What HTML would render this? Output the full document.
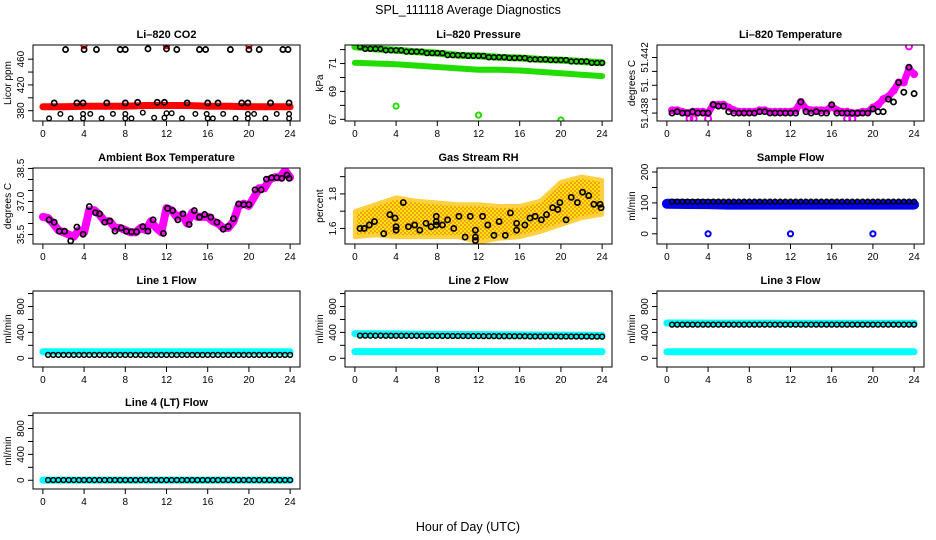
<!DOCTYPE html>
<html><head><meta charset="utf-8"><style>
html,body{margin:0;padding:0;background:#fff}
svg{display:block;font-family:"Liberation Sans",sans-serif}
</style></head><body>
<svg id="chart" width="936" height="540" viewBox="0 0 936 540" xmlns="http://www.w3.org/2000/svg">
<rect width="936" height="540" fill="#fff"/>
<text x="468" y="14" font-size="12.5" text-anchor="middle">SPL_111118  Average Diagnostics</text>
<text x="468" y="531" font-size="12.5" text-anchor="middle">Hour of Day (UTC)</text>
</svg>
<script>
// ---------- data ----------
const xTicks = [0,4,8,12,16,20,24];
const hours2 = [0,2,4,6,8,10,12,14,16,18,20,22,24];
const hoursHalf = [0.5,1,1.5,2,2.5,3,3.5,4,4.5,5,5.5,6,6.5,7,7.5,8,8.5,9,9.5,10,10.5,11,11.5,12,12.5,13,13.5,14,14.5,15,15.5,16,16.5,17,17.5,18,18.5,19,19.5,20,20.5,21,21.5,22,22.5,23,23.5,24];

// CO2
const co2Red = [386,386,387,387,387,388,388,388,387,387,386,386,386];
const co2RedOutHours = [4,12,20];
const co2RedOut = [481,481,481];
const co2HighHours = [2.2,4,5.2,7.5,8,10.2,12,13,15.2,15.8,18.2,20,21,23.3,23.8];
const co2High = [475,475,475,475,475,476,476,475,475,475,475,475,475,475,475];
const co2MidHours = [1.1,3.3,3.9,6.2,8,9.2,11.1,11.8,14,16,17,19.3,19.9,22.1,23.9];
const co2Mid = [392,392,392,392,392,393,393,393,392,392,392,392,392,392,392];
const co2LowHours = [1.7,3.9,4.6,6.8,8,9.7,12,12.5,14.8,15.9,17.5,19.9,20.5,22.7,23.9];
const co2Low = [375,375,375,375,375,377,376,376,375,375,375,375,375,375,375];
const co2Low2Hours = [0.6,2.7,3.9,5.7,8,8.6,10.8,11.8,13.5,16,16.5,18.7,19.9,21.6,23.9];
const co2Low2 = [368,368,368,368,368,368,369,369,368,368,368,368,368,368,368];

// Pressure
const presUpper = [72.2,72.05,71.95,71.85,71.75,71.6,71.55,71.45,71.4,71.3,71.25,71.15,71.05];
const presLower = [71.05,71.0,70.95,70.85,70.75,70.65,70.55,70.55,70.5,70.4,70.3,70.2,70.1];
const presOutHours = [4,12,20];
const presOut = [67.95,67.3,66.95];

// Li-820 temperature
const tempBlack = [51.4380,51.4381,51.4380,51.4380,51.4381,51.4380,51.4380,51.4380,51.4386,51.4385,51.4385,51.4381,51.4380,51.4380,51.4380,51.4380,51.4380,51.4381,51.4381,51.4380,51.4380,51.4380,51.4380,51.4380,51.4380,51.4388,51.4381,51.4380,51.4381,51.4380,51.4380,51.4386,51.4380,51.4380,51.4380,51.4380,51.4380,51.4380,51.4380,51.4383,51.4381,51.4381,51.4390,51.4388,51.4402,51.4395,51.4413,51.4394];
const tempMag = [51.4382,51.4382,51.4381,51.4380,51.4381,51.4381,51.4381,51.4380,51.4386,51.4386,51.4386,51.4384,51.4382,51.4381,51.4381,51.4381,51.4381,51.4382,51.4382,51.4381,51.4381,51.4381,51.4381,51.4381,51.4382,51.4388,51.4383,51.4382,51.4382,51.4382,51.4382,51.4385,51.4382,51.4381,51.4381,51.4380,51.4380,51.4381,51.4381,51.4384,51.4386,51.4390,51.4392,51.4396,51.4402,51.4402,51.4412,51.4408];
const tempOutHours = [2.2,2.6,4,17.5,18,23.5];
const tempOut = [51.4376,51.4376,51.4376,51.4376,51.4376,51.4428];

// Ambient box temperature
const ambHours = [0.6,1.1,1.6,2.1,2.7,3.3,3.9,4.5,5.1,5.5,6.0,6.5,7.0,7.6,8.1,8.6,9.1,9.7,10.2,10.7,11.7,12.1,12.6,13.1,13.6,14.2,14.7,15.2,15.7,16.3,16.9,17.5,18.0,18.5,19.0,19.5,20.0,20.6,21.2,21.7,22.2,22.7,23.2,23.7,23.9];
const ambBlack = [36.17,36.06,35.65,35.65,35.21,35.84,35.51,36.77,36.49,36.44,36.06,36.11,35.66,35.80,35.65,35.62,35.62,35.86,35.65,36.17,35.55,36.69,36.59,36.17,36.44,35.96,36.59,36.29,36.41,36.29,36.06,35.74,35.87,36.22,36.89,36.86,36.86,37.53,37.53,38.01,38.08,38.08,38.05,38.2,38.05];
const ambMagHours = [0,0.5,1,1.5,2,2.5,3,3.5,4,4.5,5,5.5,6,6.5,7,7.5,8,8.5,9,9.5,10,10.5,11,11.5,12,12.5,13,13.5,14,14.5,15,15.5,16,16.5,17,17.5,18,18.5,19,19.5,20,20.5,21,21.5,22,22.5,23,23.5,24];
const ambMag = [36.3,36.25,36.0,35.7,35.6,35.5,35.4,35.7,35.6,36.6,36.6,36.4,36.1,36.1,35.8,35.8,35.7,35.6,35.6,35.8,35.7,36.1,35.8,35.6,36.7,36.6,36.3,36.4,36.0,36.5,36.3,36.3,36.3,36.1,36.0,35.8,35.8,36.1,36.8,36.9,36.8,37.2,37.6,37.6,38.0,38.1,38.1,38.4,38.1];

// Gas stream RH
const rhBandHours = [0,2,4,6,8,10,12,14,16,18,20,22,24];
const rhUpper = [1.70,1.74,1.78,1.76,1.75,1.74,1.74,1.73,1.73,1.76,1.87,1.90,1.88];
const rhLower = [1.55,1.56,1.55,1.55,1.55,1.55,1.52,1.54,1.55,1.58,1.62,1.66,1.68];
const rhHours = [0.5,0.9,1.4,1.9,2.8,3.4,3.9,4,4,4.7,5.2,5.8,6.3,6.9,7.4,7.9,7.9,7.9,8.5,9,9.6,10.1,10.7,11.2,11.7,11.7,11.7,12.4,12.9,13.5,14,14.6,15.1,15.7,15.7,16.5,17,17.5,18.1,18.6,19.2,19.7,19.9,20.5,21,21.6,22.1,22.7,23.2,23.8,23.9];
const rhBlack = [1.60,1.60,1.62,1.64,1.57,1.68,1.66,1.61,1.59,1.75,1.61,1.62,1.59,1.63,1.61,1.67,1.64,1.62,1.62,1.65,1.60,1.67,1.55,1.67,1.59,1.55,1.53,1.67,1.62,1.56,1.64,1.56,1.69,1.63,1.59,1.62,1.66,1.67,1.65,1.68,1.72,1.71,1.75,1.65,1.78,1.75,1.81,1.79,1.74,1.74,1.72];

// Sample flow
const sfUpper = [108,107,107,106,106,106,106,106,106,106,106,106,106];
const sfLower = [86,86,85,83,83,83,83,83,83,83,83,83,83];
const sfBlack = [104,104,104,104,104,104,104,104,104,104,104,104,104,104,104,104,104,104,104,104,104,104,104,104,104,104,104,104,104,104,104,104,104,104,104,104,104,104,104,104,104,104,104,104,104,104,104,104];
const sfOutHours = [4,12,20];
const sfOut = [0,0,0];

// Line flows
const l1Cyan = [100,100,100,100,100,100,100,100,100,100,100,100,100];
const l1Black = [52,52,52,52,52,52,52,52,52,52,52,52,52,52,52,52,52,52,52,52,52,52,52,52,52,52,52,52,52,52,52,52,52,52,52,52,52,52,52,52,52,52,52,52,52,52,52,52];
const l2CyanHi = [380,378,376,372,370,368,366,364,362,360,358,356,354];
const l2CyanLo = [103,103,103,103,103,103,103,103,103,103,103,103,103];
const l2Black = [350,350,349,349,349,348,348,348,348,347,347,347,346,346,346,345,345,345,344,344,344,343,343,343,342,342,342,341,341,341,340,340,340,339,339,339,338,338,338,337,337,337,336,336,336,335,335,334];
const l3CyanHi = [545,545,544,544,543,543,542,542,541,541,540,540,540];
const l3CyanLo = [100,100,100,100,100,100,100,100,100,100,100,100,100];
const l3Black = [520,520,520,520,520,520,520,520,520,520,520,520,520,520,520,520,520,520,520,520,520,520,520,520,520,520,520,520,520,520,520,520,520,520,520,520,520,520,520,520,520,520,520,520,520,520,520,520];
const l4Cyan = [3,3,3,3,3,3,3,3,3,3,3,3,3];
const l4Black = [3,3,3,3,3,3,3,3,3,3,3,3,3,3,3,3,3,3,3,3,3,3,3,3,3,3,3,3,3,3,3,3,3,3,3,3,3,3,3,3,3,3,3,3,3,3,3,3];

// ---------- drawing ----------
const NS = "http://www.w3.org/2000/svg";
const svg = document.getElementById('chart');
function mk(tag, parent, attrs) {
  const e = document.createElementNS(NS, tag);
  for (const k in attrs) e.setAttribute(k, attrs[k]);
  parent.appendChild(e);
  return e;
}
const ROW_TOP = [45,168,291,413];
const PH = 76;

function panel(col, row, name, title, ylab, ylim, ticks, labels) {
  const g = mk('g', svg, {});
  
  
  const L = 33 + 312 * col, R = 300 + 312 * col;
  const T = ROW_TOP[row], B = T + PH;
  const pad = (R - L) * 0.04 / 1.08;
  const x = h => L + pad + (h / 24) * (R - L - 2 * pad);
  const y = v => B - (v - ylim[0]) / (ylim[1] - ylim[0]) * (B - T);
  const t = mk('text', g, {x: (L + R) / 2, y: T - 7, 'font-size': 11, 'font-weight': 'bold', 'text-anchor': 'middle'});
  t.textContent = title;
  
  
  const xa = mk('g', g, {});
  
  
  mk('line', xa, {x1: x(0), x2: x(24), y1: B, y2: B, stroke: '#000'});
  xTicks.forEach(h => {
    mk('line', xa, {x1: x(h), x2: x(h), y1: B, y2: B + 5, stroke: '#000'});
    const tl = mk('text', xa, {x: x(h), y: B + 16, 'font-size': 10, 'text-anchor': 'middle'});
    tl.textContent = h;
    
    
  });
  const ya = mk('g', g, {});
  
  
  mk('line', ya, {x1: L, x2: L, y1: y(ticks[0]), y2: y(ticks[ticks.length - 1]), stroke: '#000'});
  ticks.forEach((v, i) => {
    mk('line', ya, {x1: L - 5, x2: L, y1: y(v), y2: y(v), stroke: '#000'});
    if (labels[i] !== '') {
      const tl = mk('text', ya, {x: L - 9, y: y(v), 'font-size': 10, 'text-anchor': 'middle', transform: `rotate(-90 ${L - 9} ${y(v)})`});
      tl.textContent = labels[i];
      
      
    }
  });
  const yl = mk('text', g, {x: L - 22, y: (T + B) / 2, 'font-size': 10, 'text-anchor': 'middle', transform: `rotate(-90 ${L - 22} ${(T + B) / 2})`});
  yl.textContent = ylab;
  
  
  const clip = 'clip' + col + row;
  const cp = mk('clipPath', g, {id: clip});
  mk('rect', cp, {x: L, y: T, width: R - L, height: B - T});
  const plot = mk('g', g, {'clip-path': `url(#${clip})`});
  
  
  mk('rect', g, {x: L, y: T, width: R - L, height: B - T, fill: 'none', stroke: '#000'});
  return {x, y, plot};
}
function band(p, hrs, vals, color, w, nm) {
  const pts = hrs.map((h, i) => p.x(h).toFixed(1) + ',' + p.y(vals[i]).toFixed(1)).join(' ');
  const e = mk('polyline', p.plot, {points: pts, fill: 'none', stroke: color, 'stroke-width': w, 'stroke-linecap': 'round', 'stroke-linejoin': 'round'});
  
  
}
function pts(p, hrs, vals, color, nm, r, sw, fill) {
  hrs.forEach((h, i) => {
    const c = mk('circle', p.plot, {cx: p.x(h), cy: p.y(vals[i]), r: r || 2.6, fill: fill || 'none', stroke: color, 'stroke-width': sw || 1.7});
    
    
  });
}
function area(p, hrs, up, lo, nm) {
  const a = hrs.map((h, i) => p.x(h).toFixed(1) + ',' + p.y(up[i]).toFixed(1));
  const b = hrs.slice().reverse().map((h, j) => { const i = hrs.length - 1 - j; return p.x(h).toFixed(1) + ',' + p.y(lo[i]).toFixed(1); });
  const e = mk('polygon', p.plot, {points: a.concat(b).join(' '), fill: 'url(#rhpat)', stroke: '#ffd040', 'stroke-width': 4, 'stroke-linejoin': 'round'});
  
  
}
const defs = mk('defs', svg, {});
const pat = mk('pattern', defs, {id: 'rhpat', width: 4, height: 4, patternUnits: 'userSpaceOnUse'});
mk('rect', pat, {width: 4, height: 4, fill: '#ffe600'});
mk('rect', pat, {width: 2, height: 2, fill: '#f5a020'});
mk('rect', pat, {x: 2, y: 2, width: 2, height: 2, fill: '#f5a020'});

p = panel(0, 0, 'co2', 'Li\u2013820 CO2', 'Licor ppm', [364, 482], [380,400,420,440,460], ['380','','420','','460']);
band(p, hours2, co2Red, '#ff0000', 7, 'co2-red-series');
pts(p, co2RedOutHours, co2RedOut, '#ff0000', 'co2-red-point', 2.6, 2);
pts(p, co2HighHours, co2High, '#000', 'co2-point');
pts(p, co2MidHours, co2Mid, '#000', 'co2-point');
pts(p, co2LowHours, co2Low, '#000', 'co2-point', 2.3, 1.4);
pts(p, co2Low2Hours, co2Low2, '#000', 'co2-point', 2.3, 1.4);

p = panel(1, 0, 'pressure', 'Li\u2013820 Pressure', 'kPa', [66.88, 72.33], [67,68,69,70,71,72], ['67','','69','','71','']);
band(p, hours2, presUpper, '#22dd00', 7, 'pressure-green-upper');
band(p, hours2, presLower, '#22dd00', 6, 'pressure-green-lower');
pts(p, hoursHalf, hoursHalf.map((h, i) => presUpper[Math.min(12, Math.round(h / 2))]), '#000', 'pressure-point', 2.4, 1.5);
pts(p, presOutHours, presOut, '#22dd00', 'pressure-outlier', 2.6, 2);

p = panel(2, 0, 'li820-temp', 'Li\u2013820 Temperature', 'degrees C', [51.43743, 51.4429], [51.438,51.439,51.440,51.441,51.442], ['51.438','','51.','','51.442']);
band(p, hoursHalf, tempMag, '#ff00ff', 7, 'temp-magenta-series');
pts(p, hoursHalf, tempMag, '#ff00ff', 'temp-magenta-point', 3, 2);
pts(p, tempOutHours, tempOut, '#ff00ff', 'temp-magenta-outlier', 3, 2);
pts(p, hoursHalf, tempBlack, '#000', 'temp-point');

p = panel(0, 1, 'ambient', 'Ambient Box Temperature', 'degrees C', [35.07, 38.52], [35.5,36.0,36.5,37.0,37.5,38.0,38.5], ['35.5','','','37.0','','','38.5']);
band(p, ambMagHours, ambMag, '#ff00ff', 8, 'ambient-magenta-series');
pts(p, ambHours, ambBlack, '#000', 'ambient-point');

p = panel(1, 1, 'rh', 'Gas Stream RH', 'percent', [1.51, 1.95], [1.6,1.7,1.8,1.9], ['1.6','','1.8','']);
area(p, rhBandHours, rhUpper, rhLower, 'rh-cloud');
pts(p, rhHours, rhBlack, '#000', 'rh-point');

p = panel(2, 1, 'sample-flow', 'Sample Flow', 'ml/min', [-33, 213], [0,50,100,150,200], ['0','','100','','200']);
band(p, hours2, sfUpper.map((v, i) => (v + sfLower[i]) / 2), '#0000ee', 10, 'sample-flow-blue');
pts(p, hoursHalf, sfBlack, '#000', 'sample-flow-point', 2.4, 1.5);
pts(p, sfOutHours, sfOut, '#0000ee', 'sample-flow-outlier', 2.6, 2);

const fT = [0,200,400,600,800,1000], fL = ['0','','400','','800',''];
p = panel(0, 2, 'line1', 'Line 1 Flow', 'ml/min', [-135, 1040], fT, fL);
band(p, hours2, l1Cyan, '#00ffff', 7, 'line1-cyan');
pts(p, hoursHalf, l1Black, '#000', 'line1-point', 2.4, 1.5);

p = panel(1, 2, 'line2', 'Line 2 Flow', 'ml/min', [-135, 1040], fT, fL);
band(p, hours2, l2CyanHi, '#00ffff', 7, 'line2-cyan-upper');
band(p, hours2, l2CyanLo, '#00ffff', 7, 'line2-cyan-lower');
pts(p, hoursHalf, l2Black, '#000', 'line2-point', 2.4, 1.5);

p = panel(2, 2, 'line3', 'Line 3 Flow', 'ml/min', [-135, 1040], fT, fL);
band(p, hours2, l3CyanHi, '#00ffff', 7, 'line3-cyan-upper');
band(p, hours2, l3CyanLo, '#00ffff', 7, 'line3-cyan-lower');
pts(p, hoursHalf, l3Black, '#000', 'line3-point', 2.4, 1.5);

p = panel(0, 3, 'line4', 'Line 4 (LT) Flow', 'ml/min', [-135, 1040], fT, fL);
band(p, hours2, l4Cyan, '#00ffff', 7, 'line4-cyan');
pts(p, hoursHalf, l4Black, '#000', 'line4-point', 2.4, 1.5);
</script>
</body></html>
